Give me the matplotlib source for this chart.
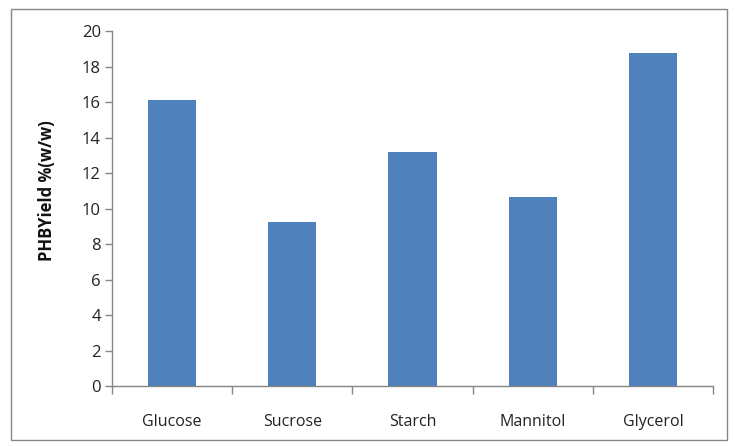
import matplotlib
matplotlib.use("Agg")
import matplotlib.pyplot as plt
from matplotlib.patches import Rectangle

# Carbon sources and PHB yield (% w/w)
categories = ["Glucose", "Sucrose", "Starch", "Mannitol", "Glycerol"]
yield_pct = [16.15, 9.25, 13.2, 10.65, 18.78]
y_ticks = [0, 2, 4, 6, 8, 10, 12, 14, 16, 18, 20]

plt.rcParams["font.family"] = ["Open Sans", "DejaVu Sans"]

fig = plt.figure(figsize=(7.35, 4.46), dpi=100)
ax = fig.add_axes([112 / 735, 1 - 386 / 446, (713 - 112) / 735, (386 - 31.5) / 446])

x = list(range(len(categories)))
ax.bar(x, yield_pct, width=0.4, color="#4F81BD", zorder=2)

ax.set_xlim(-0.5, len(categories) - 0.5)
ax.set_ylim(0, 20)
ax.set_yticks(y_ticks)
ax.set_yticklabels([str(v) for v in y_ticks], fontsize=12, color="#222222")

# category labels centred under bars, tick marks on category boundaries
ax.set_xticks(x)
ax.set_xticklabels(categories, fontsize=11.5, color="#222222")
ax.tick_params(axis="x", which="major", length=0, pad=20)
ax.set_xticks([i - 0.5 for i in range(len(categories) + 1)], minor=True)
ax.tick_params(axis="x", which="minor", length=6, color="#868686", width=1)
ax.tick_params(axis="y", length=5, color="#868686", width=1, pad=3)

for side in ("top", "right"):
    ax.spines[side].set_visible(False)
for side in ("left", "bottom"):
    ax.spines[side].set_color("#868686")
    ax.spines[side].set_linewidth(1)

ax.set_ylabel("PHBYield %(w/w)", fontsize=12, fontweight="bold", color="#111111")
ax.yaxis.set_label_coords(-0.094, 0.55)

# chart-area border
fig.patches.append(Rectangle((11 / 735, 1 - 440 / 446), (727 - 11) / 735, (440 - 8.5) / 446,
                             transform=fig.transFigure, fill=False, edgecolor="#868686",
                             linewidth=1))

fig.savefig("out.png", dpi=100)
